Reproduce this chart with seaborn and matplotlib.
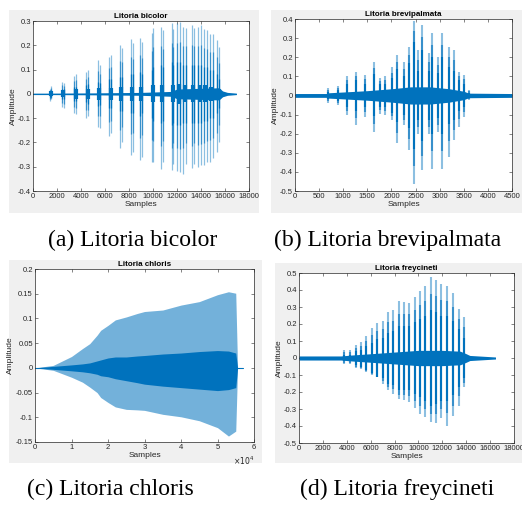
import numpy as np
import matplotlib
matplotlib.use("Agg")
import matplotlib.pyplot as plt
import seaborn as sns
from matplotlib.patches import Rectangle

# ---------------- data ----------------
# (a) Litoria bicolor : strike positions (samples), peaks, dark core
bic_x = [1380, 1500, 2420, 2600, 3430, 3600, 4430, 4620, 5400, 5580, 6370, 6520, 7220, 7380,
         8150, 8320, 8920, 9060, 9890, 10030, 10640, 10860, 11560, 11700, 12030, 12250, 12530, 12750,
         13220, 13420, 13780, 14000, 14250, 14470, 14750, 15030, 15360, 15530]
bic_top = [0.02, 0.032, 0.05, 0.045, 0.075, 0.08, 0.09, 0.097, 0.14, 0.12, 0.15, 0.16, 0.2, 0.19,
           0.225, 0.21, 0.228, 0.215, 0.25, 0.272, 0.276, 0.262, 0.29, 0.269, 0.29, 0.294, 0.276, 0.272,
           0.283, 0.272, 0.276, 0.283, 0.269, 0.262, 0.248, 0.248, 0.221, 0.193]
bic_bot = [-0.03, -0.02, -0.055, -0.06, -0.08, -0.085, -0.1, -0.09, -0.135, -0.14, -0.175, -0.16, -0.225, -0.2,
           -0.25, -0.24, -0.273, -0.26, -0.28, -0.28, -0.31, -0.28, -0.314, -0.287, -0.318, -0.321, -0.33, -0.287,
           -0.307, -0.287, -0.3, -0.295, -0.295, -0.28, -0.28, -0.266, -0.239, -0.198]
bic_core = [0.012, 0.015, 0.02, 0.02, 0.03, 0.03, 0.035, 0.04, 0.05, 0.045, 0.06, 0.06, 0.07, 0.07,
            0.08, 0.08, 0.09, 0.08, 0.1, 0.11, 0.12, 0.11, 0.13, 0.12, 0.13, 0.13, 0.12, 0.12,
            0.12, 0.12, 0.12, 0.12, 0.11, 0.11, 0.1, 0.1, 0.08, 0.06]
bic_blob = [0.01, 0.015, 0.02, 0.02, 0.025, 0.025, 0.03, 0.03, 0.03, 0.035, 0.035, 0.035, 0.04, 0.035,
            0.035, 0.035, 0.035, 0.03, 0.02]
bic_band_x = [0, 1300, 5000, 9000, 11500, 12000, 15500, 15800, 16200, 16950]
bic_band = [0.003, 0.003, 0.004, 0.006, 0.01, 0.02, 0.025, 0.012, 0.006, 0.003]
bic_yticks = [-0.4, -0.3, -0.2, -0.1, 0, 0.1, 0.2, 0.3]
bic_ylabels = ['-0.4', '-0.3', '-0.2', '-0.1', '0', '0.1', '0.2', '0.3']

# (b) Litoria brevipalmata
brev_x = [690, 890, 1075, 1260, 1455, 1640, 1765, 1870, 2010, 2110, 2250, 2355, 2460, 2560, 2630, 2770,
          2850, 2975, 3045, 3185, 3290, 3395, 3495, 3600]
brev_top = [0.037, 0.05, 0.1, 0.125, 0.107, 0.177, 0.09, 0.1, 0.15, 0.21, 0.177, 0.255, 0.392, 0.238,
            0.37, 0.22, 0.326, 0.2, 0.326, 0.255, 0.238, 0.125, 0.107, 0.028]
brev_bot = [-0.04, -0.05, -0.1, -0.155, -0.112, -0.19, -0.095, -0.1, -0.13, -0.25, -0.155, -0.287, -0.462,
            -0.2, -0.392, -0.2, -0.383, -0.19, -0.383, -0.322, -0.235, -0.165, -0.112, -0.025]
brev_core = [0.02, 0.03, 0.06, 0.08, 0.06, 0.11, 0.06, 0.06, 0.09, 0.14, 0.1, 0.17, 0.28, 0.13, 0.24, 0.13,
             0.2, 0.12, 0.2, 0.15, 0.13, 0.08, 0.06, 0.015]
brev_band_x = [0, 650, 700, 1000, 1500, 2000, 2400, 2800, 3200, 3500, 3600, 4500]
brev_band = [0.01, 0.01, 0.014, 0.018, 0.025, 0.035, 0.045, 0.045, 0.035, 0.022, 0.012, 0.01]
brev_yticks = [-0.5, -0.4, -0.3, -0.2, -0.1, 0, 0.1, 0.2, 0.3, 0.4]
brev_ylabels = ['-0.5', '-0.4', '-0.3', '-0.2', '-0.1', '0', '0.1', '0.2', '0.3', '0.4']

# (c) Litoria chloris : envelopes
chl_x = [0, 5000, 10000, 13000, 15000, 17000, 18000, 20000, 22000, 25000, 28000, 30000, 35000,
         40000, 45000, 50000, 53000, 55000, 55500]
chl_up = [0, 0.005, 0.023, 0.039, 0.049, 0.066, 0.076, 0.086, 0.097, 0.103, 0.11, 0.114, 0.117,
          0.127, 0.134, 0.148, 0.154, 0.151, 0.0]
chl_lo = [0, -0.005, -0.019, -0.029, -0.039, -0.05, -0.06, -0.07, -0.079, -0.084, -0.085, -0.086, -0.094,
          -0.099, -0.107, -0.121, -0.138, -0.128, 0.0]
chl_in_up = [0, 0.003, 0.006, 0.008, 0.01, 0.014, 0.016, 0.02, 0.022, 0.022, 0.024, 0.025, 0.028,
             0.03, 0.033, 0.035, 0.034, 0.03, 0.0]
chl_in_lo = [0, -0.003, -0.006, -0.008, -0.01, -0.013, -0.016, -0.018, -0.022, -0.026, -0.03, -0.033, -0.037,
             -0.04, -0.043, -0.046, -0.044, -0.04, 0.0]
chl_yticks = [-0.15, -0.1, -0.05, 0, 0.05, 0.1, 0.15, 0.2]
chl_ylabels = ['-0.15', '-0.1', '-0.05', '0', '0.05', '0.1', '0.15', '0.2']

# (d) Litoria freycineti
frey_x = [3800, 4230, 4760, 5210, 5630, 6100, 6530, 7000, 7450, 7900, 8350, 8820, 9240, 9690, 10140,
          10590, 11010, 11430, 11900, 12380, 12890, 13390, 13810]
frey_top = [0.05, 0.05, 0.076, 0.096, 0.13, 0.176, 0.204, 0.22, 0.27, 0.28, 0.333, 0.327, 0.324, 0.357,
            0.396, 0.425, 0.478, 0.459, 0.435, 0.425, 0.38, 0.288, 0.243]
frey_bot = [-0.035, -0.035, -0.06, -0.065, -0.085, -0.1, -0.114, -0.15, -0.19, -0.21, -0.24, -0.247, -0.26,
            -0.294, -0.33, -0.345, -0.378, -0.384, -0.35, -0.402, -0.34, -0.28, -0.173]
frey_core = [0.02, 0.02, 0.04, 0.05, 0.07, 0.09, 0.11, 0.12, 0.15, 0.16, 0.19, 0.19, 0.19, 0.21, 0.23,
             0.25, 0.28, 0.27, 0.25, 0.25, 0.22, 0.17, 0.12]
frey_band_x = [0, 3500, 4500, 6000, 8000, 10000, 12000, 13500, 14000, 14300, 16450]
frey_band = [0.012, 0.012, 0.018, 0.025, 0.035, 0.045, 0.045, 0.04, 0.025, 0.015, 0.006]
frey_yticks = [-0.5, -0.4, -0.3, -0.2, -0.1, 0, 0.1, 0.2, 0.3, 0.4, 0.5]
frey_ylabels = ['-0.5', '-0.4', '-0.3', '-0.2', '-0.1', '0', '0.1', '0.2', '0.3', '0.4', '0.5']

titles = ['Litoria bicolor', 'Litoria brevipalmata', 'Litoria chloris', 'Litoria freycineti']
captions = ['(a) Litoria bicolor', '(b) Litoria brevipalmata', '(c) Litoria chloris', '(d) Litoria freycineti']

# ---------------- figure ----------------
sns.set_theme(style="white")
plt.rcParams['font.family'] = ['Liberation Sans', 'DejaVu Sans']

BLUE = '#0072BD'
W, H = 522, 505
fig = plt.figure(figsize=(W / 100, H / 100), dpi=100)
fig.patch.set_facecolor('white')


def frac(x0, y0, x1, y1):
    return [x0 / W, 1 - y1 / H, (x1 - x0) / W, (y1 - y0) / H]


for box in [(9, 10, 259, 213), (271, 10, 522, 213), (9, 260, 262, 463), (275, 263, 522, 463)]:
    r = frac(*box)
    fig.patches.append(Rectangle((r[0], r[1]), r[2], r[3], transform=fig.transFigure,
                                 facecolor='#f0f0f0', edgecolor='none', zorder=-10))


def style(ax, title, xlim, ylim, xt, yt, ylab, xfmt=None):
    ax.set_zorder(5)
    ax.set_facecolor('white')
    ax.set_xlim(xlim)
    ax.set_ylim(ylim)
    ax.set_xticks(xt)
    ax.set_yticks(yt)
    ax.set_xticklabels(xfmt if xfmt else [str(v) for v in xt])
    ax.set_yticklabels(ylab)
    ax.tick_params(direction='in', length=2, width=0.4, bottom=True, left=True, top=True, right=True,
                   labelsize=5.5, colors='#262626', pad=1.5)
    for s in ax.spines.values():
        s.set_linewidth(0.5)
        s.set_color('#262626')
    ax.set_title(title, fontsize=5.8, fontweight='bold', pad=2, color='black')
    ax.set_xlabel('Samples', fontsize=6, labelpad=0.5, color='#262626')
    ax.set_ylabel('Amplitude', fontsize=6, labelpad=1, color='#262626')


def strikes(ax, xs, tops, bots, core, lw=1.0):
    tops, bots, core = np.array(tops), np.array(bots), np.array(core)
    ax.vlines(xs, bots, tops, color=BLUE, alpha=0.45, lw=lw)
    # medium layer halfway between the dark core and the peaks
    ax.vlines(xs, (bots - core) / 2, (tops + core) / 2, color=BLUE, alpha=0.6, lw=lw)
    ax.vlines(xs, -core, core, color=BLUE, lw=lw)


# (a)
ax = fig.add_axes(frac(33, 21, 249, 191))
ax.fill_between(bic_band_x, -np.array(bic_band), bic_band, color=BLUE, lw=0)
sns.lineplot(x=[0, bic_band_x[-1]], y=[0, 0], ax=ax, color=BLUE, lw=0.6)
strikes(ax, bic_x, bic_top, bic_bot, bic_core, lw=0.9)
ax.vlines(np.array(bic_x[::2]) + 120, -np.array(bic_blob), bic_blob, color=BLUE, lw=3)
style(ax, titles[0], (0, 18000), (-0.4, 0.3), list(range(0, 18001, 2000)), bic_yticks, bic_ylabels)

# (b)
ax = fig.add_axes(frac(295, 19, 512, 191))
ax.fill_between(brev_band_x, -np.array(brev_band), brev_band, color=BLUE, lw=0)
sns.lineplot(x=[0, 4500], y=[0, 0], ax=ax, color=BLUE, lw=0.6)
strikes(ax, brev_x, brev_top, brev_bot, brev_core, lw=1.5)
style(ax, titles[1], (0, 4500), (-0.5, 0.4), list(range(0, 4501, 500)), brev_yticks, brev_ylabels)

# (c)
ax = fig.add_axes(frac(35, 269, 254, 442))
ax.fill_between(chl_x, chl_lo, chl_up, color=BLUE, alpha=0.55, lw=0)
ax.fill_between(chl_x, chl_in_lo, chl_in_up, color=BLUE, lw=0)
sns.lineplot(x=[0, 57000], y=[0, 0], ax=ax, color=BLUE, lw=0.8)
style(ax, titles[2], (0, 60000), (-0.15, 0.2), list(range(0, 60001, 10000)),
      chl_yticks, chl_ylabels, xfmt=[str(i) for i in range(7)])
ax.text(1.0, -0.075, r'$\times10^{4}$', transform=ax.transAxes, ha='right', va='top',
        fontsize=5.5, color='#262626')

# (d)
ax = fig.add_axes(frac(299, 273, 514, 443))
ax.fill_between(frey_band_x, -np.array(frey_band), frey_band, color=BLUE, lw=0)
sns.lineplot(x=[0, 16450], y=[0, 0], ax=ax, color=BLUE, lw=0.6)
strikes(ax, frey_x, frey_top, frey_bot, frey_core, lw=1.5)
style(ax, titles[3], (0, 18000), (-0.5, 0.5), list(range(0, 18001, 2000)), frey_yticks, frey_ylabels)

# captions
for (cx, cy), txt in zip([(133, 240), (388, 240), (110, 489), (397, 489)], captions):
    fig.text(cx / W, 1 - cy / H, txt, ha='center', va='center', fontsize=17,
             family=['Liberation Serif', 'DejaVu Serif'], color='black')

fig.savefig('out.png', dpi=100, facecolor='white')
